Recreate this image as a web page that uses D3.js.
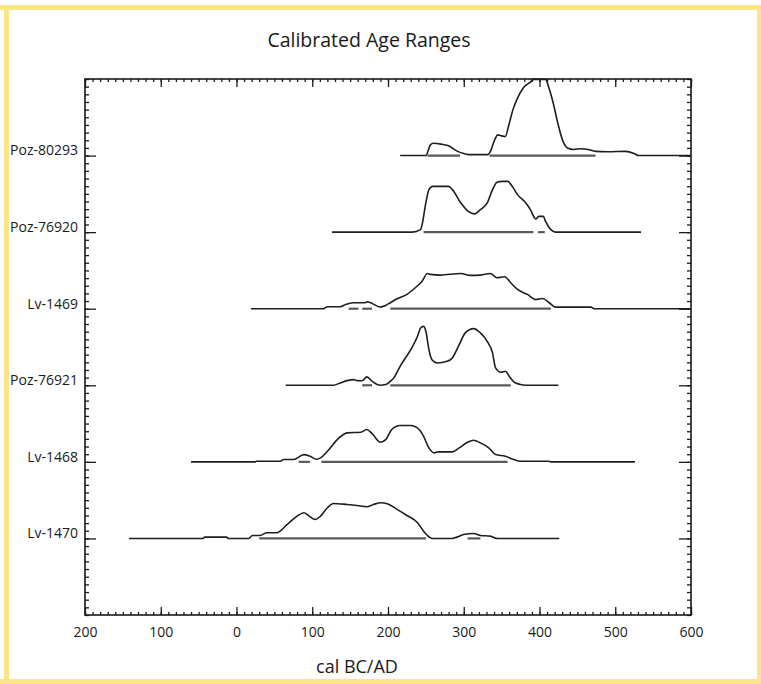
<!DOCTYPE html>
<html>
<head>
<meta charset="utf-8">
<script src="https://cdn.jsdelivr.net/npm/d3@7"></script>
<style>
  html, body { margin: 0; padding: 0; background: #ffffff; }
  svg { display: block; }
  text { font-family: "Open Sans", "Noto Sans", sans-serif; fill: #1a1a1a; }
</style>
</head>
<body>
<svg id="chart" width="761" height="684"></svg>
<script>
// ---------------- data ----------------
const title = "Calibrated Age Ranges";
const xTitle = "cal BC/AD";
const sampleLabels = ["Poz-80293", "Poz-76920", "Lv-1469", "Poz-76921", "Lv-1468", "Lv-1470"];

const majorTickValues = [-200, -100, 0, 100, 200, 300, 400, 500, 600];
const majorTickLabels = ["200", "100", "0", "100", "200", "300", "400", "500", "600"];

// probability curves: [year (cal BC/AD, BC negative), relative height 0-100]
const curvePoz80293 = [[216,0],[250,0],[256,14],[260,16],[270,15],[279,13],[292,5.5],[300,2.6],[306,1.3],[332,1.3],[335,5],[340,18.6],[345,27],[349,26],[355,25],[359,38],[365,60],[371,75],[379,89],[388,96],[392,99.5],[408,99.5],[412,90],[418,69],[424,43],[431,18.6],[437,10],[445,8],[455,9],[464,8],[474,5.5],[490,5],[514,5.5],[525,2.6],[531,0],[600,0]];
const curvePoz76920 = [[126,0],[232,0],[243,3.3],[245,9.8],[250,38.5],[254,55.5],[259,59.8],[280,59.8],[285,55.5],[296,38.5],[306,27.2],[314,23.8],[322,29.4],[331,38.1],[338,55.5],[344,65],[351,66.3],[358,66.3],[364,59.8],[371,49],[382,38.1],[388,29.4],[395,17.2],[399,20.6],[405,20.6],[408,14.1],[415,3.3],[421,0],[534,0]];
const curveLv1469 = [[19,0],[115,0],[120,2.6],[137,2.6],[144,5.6],[154,7.8],[170,7.8],[172,9.1],[179,6.9],[190,2.1],[197,4.3],[203,7.8],[212,13],[225,18.7],[236,27.4],[245,36],[252,46],[256,44.8],[269,43.9],[296,46],[309,43.5],[322,43.9],[335,46],[344,40.5],[354,41.8],[362,33.9],[371,25.2],[384,18.7],[395,12.1],[404,13.4],[413,7.8],[421,2.1],[468,2.1],[472,0],[600,0]];
const curvePoz76921 = [[65,0],[128,0],[137,3.1],[146,6.1],[155,7.4],[159,6.1],[166,6],[172,11],[179,5.2],[190,0],[197,0.9],[203,5],[208,10],[216,24.8],[230,46.6],[239,64],[243,74.9],[247,77],[250,70.5],[254,46.6],[258,33.5],[265,29.2],[278,31.3],[285,35.8],[294,53.1],[302,68.4],[313,74],[322,68.4],[331,57.4],[338,42.3],[342,22.7],[349,17],[355,18.3],[360,11.7],[366,4.4],[375,0.9],[382,0],[425,0]];
const curveLv1468 = [[-60,0],[25,0],[26,0.8],[58,0.8],[62,3],[75,3],[89,9.5],[97,7.3],[106,3.4],[111,5.2],[120,13.8],[133,29.1],[146,37.9],[164,38.6],[172,42.2],[179,36.9],[190,25.6],[197,29.1],[205,42.2],[216,47.4],[230,47.4],[241,42.2],[247,33.4],[254,18.3],[261,11.7],[267,13.1],[285,13.1],[294,18.3],[305,25.6],[313,28.2],[322,24.8],[333,18.3],[342,9.5],[355,7.3],[366,3],[375,0.8],[412,0.8],[415,0],[526,0]];
const curveLv1470 = [[-142,0],[-44,0],[-42,1.7],[-13,1.7],[-11,0],[16,0],[21,3.9],[31,3.9],[40,7.4],[53,7.4],[67,18.3],[80,29.1],[89,33.6],[95,30],[104,24.8],[111,29.1],[120,40.1],[128,45.7],[146,44.4],[159,43.1],[172,41.4],[181,44.4],[190,46.6],[199,45.3],[212,37.9],[225,30],[239,20.5],[247,9.5],[254,2.2],[258,0],[285,0],[291,1.7],[300,5.2],[313,6.5],[322,3.9],[335,3],[344,0],[426,0]];

// 95.4% ranges: [from, to]
const rangesPoz80293 = [[252,295],[334,474]];
const rangesPoz76920 = [[247,392],[398,407]];
const rangesLv1469 = [[148,161],[166,179],[203,415]];
const rangesPoz76921 = [[166,179],[203,362]];
const rangesLv1468 = [[82,97],[112,358]];
const rangesLv1470 = [[30,250],[305,322]];

const curves = [curvePoz80293, curvePoz76920, curveLv1469, curvePoz76921, curveLv1468, curveLv1470];
const ranges = [rangesPoz80293, rangesPoz76920, rangesLv1469, rangesPoz76921, rangesLv1468, rangesLv1470];

// ---------------- layout ----------------
const svg = d3.select("#chart");
const W = 761, H = 684;
const plot = { left: 85, right: 691, top: 79, bottom: 615 };

// yellow frame around the picture
svg.append("rect").attr("x", 0).attr("y", 0).attr("width", W).attr("height", H).attr("fill", "#ffffff");
const yel = "#fde68a";
svg.append("rect").attr("x", 0).attr("y", 5).attr("width", W).attr("height", 5).attr("fill", yel);
svg.append("rect").attr("x", 4).attr("y", 5).attr("width", 5).attr("height", H - 5).attr("fill", yel);
svg.append("rect").attr("x", 0).attr("y", 679).attr("width", W).attr("height", 5).attr("fill", yel);
svg.append("rect").attr("x", 757).attr("y", 5).attr("width", 4).attr("height", H - 5).attr("fill", yel);

const x = d3.scaleLinear().domain([-200, 600]).range([plot.left, plot.right]);
const y = d3.scaleLinear().domain([0, sampleLabels.length + 1]).range([plot.top, plot.bottom]);
const rowH = y(1) - y(0);
const h = d3.scaleLinear().domain([0, 100]).range([0, rowH]);

// titles
svg.append("text").attr("x", 369).attr("y", 47).attr("text-anchor", "middle")
  .style("font-size", "19.5px").text(title);
svg.append("text").attr("x", 357).attr("y", 673).attr("text-anchor", "middle")
  .style("font-size", "18px").text(xTitle);

const axisG = svg.append("g");
const minorX = d3.range(-200, 601, 10);
const minorY = d3.range(0, sampleLabels.length + 1.001, 0.1).map(v => +v.toFixed(2));
const rowVals = sampleLabels.map((d, i) => i + 1);

function styleAxis(g) {
  g.select(".domain").remove();
  g.selectAll("line").attr("stroke", "#1a1a1a").attr("stroke-width", 1.3);
}

// bottom
axisG.append("g").attr("transform", `translate(0,${plot.bottom})`)
  .call(d3.axisBottom(x).tickValues(minorX).tickSize(-3).tickFormat(""))
  .call(styleAxis);
axisG.append("g").attr("transform", `translate(0,${plot.bottom})`)
  .call(d3.axisBottom(x).tickValues(majorTickValues).tickSize(-8).tickPadding(12)
    .tickFormat((d, i) => majorTickLabels[i]))
  .call(styleAxis)
  .call(g => g.selectAll("text").style("font-size", "14px").attr("fill", "#1a1a1a"));
// top
axisG.append("g").attr("transform", `translate(0,${plot.top})`)
  .call(d3.axisTop(x).tickValues(minorX).tickSize(-3).tickFormat(""))
  .call(styleAxis);
axisG.append("g").attr("transform", `translate(0,${plot.top})`)
  .call(d3.axisTop(x).tickValues(majorTickValues).tickSize(-8).tickFormat(""))
  .call(styleAxis);
// left
axisG.append("g").attr("transform", `translate(${plot.left},0)`)
  .call(d3.axisLeft(y).tickValues(minorY).tickSize(-4).tickFormat(""))
  .call(styleAxis);
axisG.append("g").attr("transform", `translate(${plot.left},0)`)
  .call(d3.axisLeft(y).tickValues(rowVals).tickSize(-11).tickPadding(7)
    .tickFormat((d) => sampleLabels[d - 1]))
  .call(styleAxis)
  .call(g => g.selectAll("text").style("font-size", "14px").attr("dy", "-0.05em").attr("fill", "#1a1a1a"));
// right
axisG.append("g").attr("transform", `translate(${plot.right},0)`)
  .call(d3.axisRight(y).tickValues(minorY).tickSize(-4).tickFormat(""))
  .call(styleAxis);
axisG.append("g").attr("transform", `translate(${plot.right},0)`)
  .call(d3.axisRight(y).tickValues(rowVals).tickSize(-12).tickFormat(""))
  .call(styleAxis);

// frame
svg.append("rect").attr("x", plot.left).attr("y", plot.top)
  .attr("width", plot.right - plot.left).attr("height", plot.bottom - plot.top)
  .attr("fill", "none").attr("stroke", "#1a1a1a").attr("stroke-width", 1.6);

// distributions
const marks = svg.append("g");
curves.forEach((c, i) => {
  const base = y(i + 1);
  const line = d3.line().x(d => x(d[0])).y(d => base - h(d[1])).curve(d3.curveMonotoneX);
  ranges[i].forEach(r => {
    marks.append("line")
      .attr("x1", x(r[0])).attr("x2", x(r[1]))
      .attr("y1", base).attr("y2", base)
      .attr("stroke", "#5a5a5a").attr("stroke-width", 2.2);
  });
  marks.append("path").datum(c).attr("d", line)
    .attr("fill", "none").attr("stroke", "#1e1e1e").attr("stroke-width", 1.6)
    .attr("stroke-linejoin", "round");
});
</script>
</body>
</html>
